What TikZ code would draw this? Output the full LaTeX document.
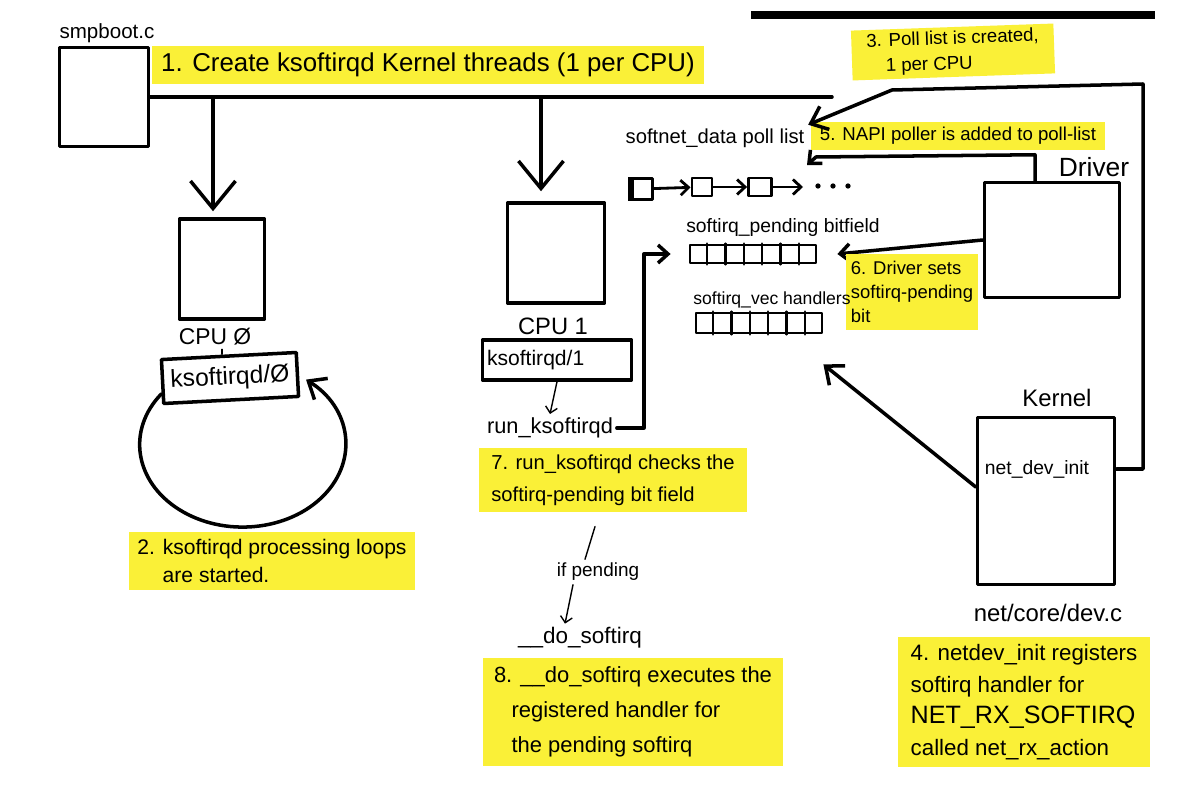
\documentclass[tikz,border=0pt]{standalone}
\usepackage{fontspec}
\setmainfont{Liberation Sans}
\usetikzlibrary{arrows.meta,calc,positioning}
\definecolor{marker}{RGB}{250,240,55}

\begin{document}
\begin{tikzpicture}[x=0.02cm, y=-0.02cm, line cap=round, line join=round,
  box/.style={draw, line width=2pt, inner sep=0pt},
  bitrow/.style={draw, line width=1.6pt, inner sep=0pt, minimum width=2.52cm, minimum height=0.36cm},
  lbl/.style={inner sep=2pt},
  hl/.style={fill=marker, inner xsep=5pt, inner ysep=4pt},
  wire/.style={line width=2pt},
  thinwire/.style={line width=0.8pt},
  bigarrow/.style={wire, -{Straight Barb[length=0.55cm, width=0.9cm]}},
  midarrow/.style={wire, -{Straight Barb[length=0.3cm, width=0.5cm]}},
  smallarrow/.style={wire, -{Straight Barb[length=0.2cm, width=0.36cm]}},
  listarrow/.style={line width=1.6pt, -{Straight Barb[length=0.16cm, width=0.3cm]}},
  thinarrow/.style={thinwire, -{Straight Barb[length=0.12cm, width=0.24cm]}}]

  \fill[white] (0,0) rectangle (1200,804);
  \useasboundingbox (0,0) rectangle (1200,804);
  % page edge
  \draw[line width=4pt, line cap=butt] (751,15) -- (1155,15);

  % smpboot
  \node[lbl, font=\fontsize{11.7}{14}\selectfont] (smpname) at (107,33) {smpboot.c};
  \node[box, minimum width=1.78cm, minimum height=1.98cm] (smp) at (104,97) {};
  \node[hl, font=\fontsize{14.7}{17}\selectfont, minimum height=0.72cm] (step1) at (428,65) {1. Create ksoftirqd Kernel threads (1 per CPU)};
  \coordinate (busend) at (832,97);
  \draw[wire] (smp.east) -- (busend);

  % CPU 0
  \node[box, minimum width=1.7cm, minimum height=2cm] (cpu0) at (222,269) {};
  \coordinate (tap0) at (213,97);
  \draw[bigarrow, shorten >=0.12cm] (tap0) -- (tap0 |- cpu0.north);
  \node[lbl, font=\fontsize{13}{15}\selectfont] (cpu0name) at (215,337) {CPU Ø};
  \node[box, rotate=3, minimum width=2.7cm, minimum height=0.88cm, font=\fontsize{14}{16}\selectfont] (k0) at (230,378) {ksoftirqd/Ø};
  \draw[thinwire] (cpu0name.-60) -- (k0.north -| cpu0name.-60);
  \draw[midarrow] (k0.190) arc[start angle=142, end angle=412, x radius=2.06cm, y radius=1.65cm];
  \node[hl, align=left, font=\fontsize{12}{16}\selectfont] (step2) at (272,561) {2. ksoftirqd processing loops\\\hspace{1.2em}are started.};

  % CPU 1
  \coordinate (tap1) at (541,97);
  \node[box, minimum width=1.94cm, minimum height=2cm] (cpu1) at (556,253) {};
  \draw[bigarrow, shorten >=0.2cm] (tap1) -- (tap1 |- cpu1.north);
  \node[lbl, font=\fontsize{13.5}{15}\selectfont] (cpu1name) at (553,326) {CPU 1};
  \node[box, text width=2.8cm, inner xsep=0.09cm, minimum height=0.8cm, align=left, font=\fontsize{12}{14}\selectfont] (k1) at (557,360) {ksoftirqd/1};
  \node[lbl, font=\fontsize{12.4}{14}\selectfont] (runk) at (550,428) {run\_ksoftirqd};
  \draw[thinarrow] (k1.south) -- (runk.north);
  \node[hl, align=left, inner xsep=7pt, font=\fontsize{11.5}{18}\selectfont] (step7) at (613,480) {7. run\_ksoftirqd checks the\\ softirq-pending bit field};
  \node[lbl, font=\fontsize{10.8}{13}\selectfont] (ifpend) at (598,572) {if pending};
  \draw[thinwire] ([xshift=-0.36cm, yshift=-0.28cm]step7.south) -- ([xshift=-0.26cm]ifpend.north);
  \node[lbl, font=\fontsize{12.8}{15}\selectfont] (dosoft) at (580,638) {\_\_do\_softirq};
  \draw[thinarrow] ([xshift=-0.5cm]ifpend.south) -- ([xshift=-0.3cm]dosoft.north);
  \node[hl, align=left, inner xsep=6pt, inner ysep=5pt, font=\fontsize{12.5}{20}\selectfont] (step8) at (633,712) {8. \_\_do\_softirq executes the\\\hspace{0.8em}registered handler for\\\hspace{0.8em}the pending softirq};

  % poll list
  \node[lbl, font=\fontsize{11.5}{14}\selectfont] (pollname) at (715,138) {softnet\_data poll list};
  \node[box, line width=1.6pt, minimum width=0.46cm, minimum height=0.42cm] (p1) at (641,189) {};
  \fill (p1.north west) rectangle ([xshift=0.12cm]p1.south west);
  \node[box, line width=1.6pt, minimum width=0.4cm, minimum height=0.36cm] (p2) at (702,187) {};
  \node[box, line width=1.6pt, minimum width=0.46cm, minimum height=0.36cm] (p3) at (760,187) {};
  \coordinate (pend) at (803,187);
  \draw[listarrow] (p1) -- (p2);
  \draw[listarrow] (p2) -- (p3);
  \draw[listarrow] (p3) -- (pend);
  \foreach \dx in {818,833,848}
    \fill (\dx,186) circle[radius=1.5pt];

  % softirq arrays
  \node[lbl, font=\fontsize{11}{13}\selectfont] (bitsname) at (783,228) {softirq\_pending bitfield};
  \node[bitrow] (bits) at (753,254) {};
  \foreach \i in {1,...,6}
    \draw[line width=1.4pt] ($(bits.north west)!\i/7!(bits.north east)$) -- ($(bits.south west)!\i/7!(bits.south east)$);
  \draw[smallarrow] (runk.east) -- ++(27,0) |- ([xshift=-0.36cm]bits.west);
  \node[bitrow, minimum height=0.4cm] (vec) at (759,323) {};
  \foreach \i in {1,...,6}
    \draw[line width=1.4pt] ($(vec.north west)!\i/7!(vec.north east)$) -- ($(vec.south west)!\i/7!(vec.south east)$);

  % driver
  \node[box, minimum width=2.7cm, minimum height=2.3cm] (drv) at (1052,240) {};
  \node[lbl, font=\fontsize{15}{17}\selectfont] (drvname) at (1094,167) {Driver};
  \node[hl, font=\fontsize{10.6}{13}\selectfont, inner ysep=3pt] (step5) at (958,136) {5. NAPI poller is added to poll-list};
  \coordinate (napikink) at (816,157);
  \coordinate (napitip) at (807,165);
  \draw[smallarrow] ([xshift=-0.34cm]drv.north) -- ++(0,-26) -- (napikink) -- (napitip);
  \draw[smallarrow] (drv.west) -- ([xshift=0.4cm]bits.east);
  \node[hl, align=left, inner xsep=3pt, font=\fontsize{10.5}{13.5}\selectfont] (step6) at (912,292) {6. Driver sets\\ softirq-pending\\ bit};
  \node[lbl, font=\fontsize{10}{12}\selectfont] (vecname) at (772,300) {softirq\_vec handlers};

  % kernel
  \node[box, minimum width=2.74cm, minimum height=3.34cm] (kern) at (1046,501) {};
  \node[lbl, font=\fontsize{13.6}{16}\selectfont] (kernname) at (1057,398) {Kernel};
  \node[lbl, font=\fontsize{11}{13}\selectfont] (netinit) at (1037,469) {net\_dev\_init};
  \node[lbl, font=\fontsize{13.6}{16}\selectfont] (devc) at (1048,613) {net/core/dev.c};
  \draw[midarrow] ([yshift=0.28cm]kern.west) -- ([yshift=-0.6cm]vec.south east);
  \node[hl, align=left, inner xsep=7pt, font=\fontsize{12.7}{18}\selectfont] (step4) at (1024,702) {4. netdev\_init registers\\ softirq handler for\\ {\fontsize{14.3}{18}\selectfont NET\_RX\_SOFTIRQ}\\ called net\_rx\_action};

  % poll list rail
  \coordinate (railtop) at (1143,84);
  \coordinate (railbend) at (892,90);
  \draw[midarrow] (kern.east |- netinit) -| (railtop) -- (railbend) -- (pollname.north east);
  \node[hl, rotate=2, align=left, inner xsep=0.3cm, inner ysep=2pt, font=\fontsize{10.6}{14.5}\selectfont] (step3) at (953,52) {3. Poll list is created,\\\hspace{1em}1 per CPU};
\end{tikzpicture}
\end{document}
